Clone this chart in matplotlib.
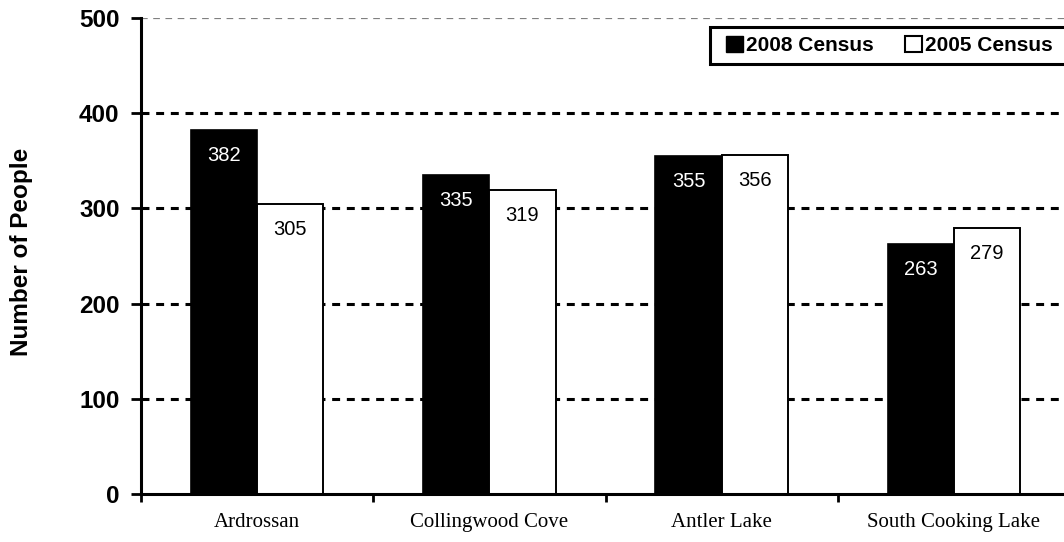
import matplotlib
matplotlib.use("Agg")
import matplotlib.pyplot as plt
from matplotlib.patches import Patch, Rectangle
import numpy as np

categories = ["Ardrossan", "Collingwood Cove", "Antler Lake", "South Cooking Lake"]
census_2008 = [382, 335, 355, 263]
census_2005 = [305, 319, 356, 279]
yticks = [0, 100, 200, 300, 400, 500]

W, H = 1064, 542
fig = plt.figure(figsize=(W/100, H/100), dpi=100)
AX_L, AX_B, AX_W, AX_H = 141, 494, 929, 476   # pixel geometry (left, bottom from top, width, height)
ax = fig.add_axes([AX_L/W, (H-AX_B)/H, AX_W/W, AX_H/H])

def px2ax(px, py):
    return (px - AX_L)/AX_W, (AX_B - py)/AX_H

x = np.arange(len(categories)) + 0.5
w = 0.285
for yv in yticks[1:-1]:
    ax.axhline(yv, color="black", lw=2.2, ls=(0, (2.6, 2.2)), zorder=0)
ax.axhline(500, color="#808080", lw=1.6, ls=(0, (3, 2.5)), zorder=0)

ax.bar(x - w/2, census_2008, w, color="black", edgecolor="black", lw=1.2, zorder=2)
ax.bar(x + w/2, census_2005, w, color="white", edgecolor="black", lw=1.4, zorder=2)

for xi, v in zip(x - w/2, census_2008):
    ax.annotate(str(v), (xi, v), xytext=(0, -22.3), textcoords="offset points",
                ha="center", va="baseline", color="white", fontsize=14.5,
                family="Liberation Sans", zorder=3)
for xi, v in zip(x + w/2, census_2005):
    ax.annotate(str(v), (xi, v), xytext=(0, -22.3), textcoords="offset points",
                ha="center", va="baseline", color="black", fontsize=14.5,
                family="Liberation Sans", zorder=3)

ax.set_xlim(0, 4)
ax.set_ylim(0, 500)
ax.set_yticks(yticks)
ax.set_yticklabels([str(t) for t in yticks], fontsize=17.5, fontweight="bold",
                   family="Liberation Sans")
ax.set_xticks(np.arange(0, 5))
ax.set_xticklabels([])
ax.set_xticks(x, minor=True)
ax.set_xticklabels(categories, minor=True, fontsize=15, family="Liberation Serif")
ax.tick_params(axis="x", which="minor", length=0, pad=14)
ax.tick_params(axis="x", which="major", length=6, width=2, direction="out")
ax.tick_params(axis="y", length=7, width=2, direction="out", pad=8.5)

for s in ["top", "right"]:
    ax.spines[s].set_visible(False)
for s in ["left", "bottom"]:
    ax.spines[s].set_linewidth(2.2)

fig.text(22/W, 1 - 252/H, "Number of People", rotation=90, ha="center", va="center",
         fontsize=17.5, fontweight="bold", family="Liberation Sans")

# legend frame (box runs past the right edge of the image)
x0, y0 = px2ax(710, 64)
x1, y1 = px2ax(1085, 27)
ax.add_patch(Rectangle((x0, y0), x1 - x0, y1 - y0, transform=ax.transAxes,
                       facecolor="white", edgecolor="black", lw=2.2, clip_on=False, zorder=4))

handles = [Patch(facecolor="black", edgecolor="black", label="2008 Census"),
           Patch(facecolor="white", edgecolor="black", lw=1.5, label="2005 Census")]
lx, ly = px2ax(726, 45.5)
leg = ax.legend(handles=handles, loc="center left", bbox_to_anchor=(lx, ly),
                ncol=2, frameon=False,
                prop={"family": "Liberation Sans", "weight": "bold", "size": 15},
                handlelength=0.8, handleheight=0.8, handletextpad=0.14, columnspacing=1.54,
                borderpad=0, borderaxespad=0)
leg.set_zorder(5)

fig.savefig("out.png", dpi=100)
